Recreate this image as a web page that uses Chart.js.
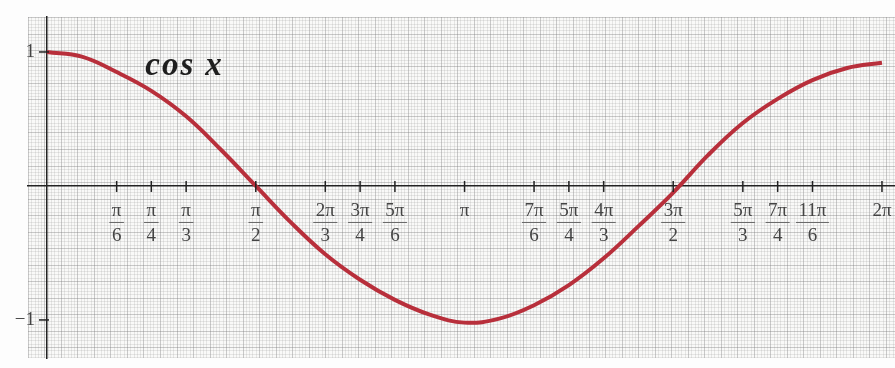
<!DOCTYPE html>
<html>
<head>
<meta charset="utf-8">
<script src="https://cdn.jsdelivr.net/npm/chart.js@4.4.1/dist/chart.umd.min.js"></script>
<style>
  html, body { margin: 0; padding: 0; background: #fdfdfd; }
  #wrap { width: 895px; height: 368px; }
</style>
</head>
<body>
<div id="wrap"><canvas id="myChart" width="895" height="368"></canvas></div>
<script>
// curve (x in radians)
const curveX = [0, 0.262, 0.524, 0.785, 1.047, 1.309, 1.571, 1.833, 2.094, 2.356, 2.618, 2.880, 3.142,
    3.403, 3.665, 3.927, 4.189, 4.451, 4.712, 4.974, 5.236, 5.498, 5.760, 6.021, 6.283]
const curveY = [1.0, 0.965, 0.85, 0.71, 0.52, 0.27, 0.0, -0.27, -0.51, -0.70, -0.85, -0.96, -1.02,
    -0.99, -0.89, -0.74, -0.54, -0.30, -0.05, 0.23, 0.47, 0.65, 0.79, 0.88, 0.92]

// x axis ticks
const tickValues = [0.524, 0.785, 1.047, 1.571, 2.094, 2.356, 2.618, 3.142,
    3.665, 3.927, 4.189, 4.712, 5.236, 5.498, 5.760, 6.283]
const tickTop = ['π', 'π', 'π', 'π', '2π', '3π', '5π', 'π', '7π', '5π', '4π', '3π', '5π', '7π', '11π', '2π']
const tickBottom = ['6', '4', '3', '2', '3', '4', '6', '', '6', '4', '3', '2', '3', '4', '6', '']

// y axis ticks
const yTickValues = [-1, 1]
const yTickLabels = ['−1', '1']

const ctx = document.getElementById('myChart').getContext('2d')
const serif = "'Liberation Serif', 'DejaVu Serif', serif"
const labelFont = { family: serif, size: 19, lineHeight: 1.3 }

// keep the plot area fixed to the layout padding
const noPad = scale => {
    scale.paddingLeft = 0
    scale.paddingRight = 0
    scale.paddingTop = 0
    scale.paddingBottom = 0
}

const paper = {
    id: 'paper',
    beforeDraw(chart) {
        const c = chart.ctx
        const a = chart.chartArea
        c.save()
        c.fillStyle = '#f9f9f8'
        c.fillRect(a.left, a.top, a.right - a.left, a.bottom - a.top)
        const step = 3.3
        let i = 0
        for (let x = a.left; x <= a.right; x += step, i++) {
            c.strokeStyle = i % 5 === 0 ? 'rgba(120,120,120,0.38)' : 'rgba(150,150,150,0.2)'
            c.lineWidth = 1
            c.beginPath()
            c.moveTo(Math.round(x) + 0.5, a.top)
            c.lineTo(Math.round(x) + 0.5, a.bottom)
            c.stroke()
        }
        i = 0
        for (let y = a.top; y <= a.bottom; y += step, i++) {
            c.strokeStyle = i % 5 === 0 ? 'rgba(120,120,120,0.38)' : 'rgba(150,150,150,0.2)'
            c.beginPath()
            c.moveTo(a.left, Math.round(y) + 0.5)
            c.lineTo(a.right, Math.round(y) + 0.5)
            c.stroke()
        }
        c.restore()
    },
    afterDraw(chart) {
        const c = chart.ctx
        const xs = chart.scales.x
        const ys = chart.scales.y
        const y0 = ys.getPixelForValue(0)
        const x0 = xs.getPixelForValue(0)
        c.save()
        c.strokeStyle = '#222'
        c.lineWidth = 1.5
        // tick marks crossing the axes
        tickValues.forEach(v => {
            const px = xs.getPixelForValue(v)
            c.beginPath()
            c.moveTo(px, y0 - 5)
            c.lineTo(px, y0 + 6)
            c.stroke()
        })
        yTickValues.forEach(v => {
            const py = ys.getPixelForValue(v)
            c.beginPath()
            c.moveTo(x0 - 8, py)
            c.lineTo(x0 + 2, py)
            c.stroke()
        })
        // y labels, left of the tick marks
        c.font = labelFont.size + 'px ' + serif
        c.fillStyle = '#444'
        c.textAlign = 'right'
        c.textBaseline = 'middle'
        yTickValues.forEach((v, i) => {
            c.fillText(yTickLabels[i], x0 - 12, ys.getPixelForValue(v))
        })
        // fraction bars
        c.strokeStyle = '#666'
        c.lineWidth = 1
        tickValues.forEach((v, i) => {
            if (!tickBottom[i]) return
            const px = xs.getPixelForValue(v)
            const w = Math.max(c.measureText(tickTop[i]).width, c.measureText(tickBottom[i]).width) + 5
            c.beginPath()
            c.moveTo(px - w / 2, y0 + 36.5)
            c.lineTo(px + w / 2, y0 + 36.5)
            c.stroke()
        })
        // curve name
        c.fillStyle = '#1e1e1e'
        c.font = 'italic bold 33px ' + serif
        c.textAlign = 'left'
        c.textBaseline = 'alphabetic'
        c.letterSpacing = '2px'
        const ny = ys.getPixelForValue(0.83)
        c.fillText('cos', xs.getPixelForValue(0.74), ny)
        c.fillText('x', xs.getPixelForValue(1.19), ny)
        c.restore()
    }
}

new Chart(ctx, {
    type: 'scatter',
    data: {
        datasets: [{
            label: 'cos x',
            data: curveX.map((x, i) => ({ x: x, y: curveY[i] })),
            showLine: true,
            borderColor: '#b82f3b',
            borderWidth: 4,
            pointRadius: 0,
            tension: 0.4
        }]
    },
    options: {
        responsive: false,
        animation: false,
        layout: { padding: { left: 28, right: 0, top: 17, bottom: 10 } },
        plugins: { legend: { display: false }, tooltip: { enabled: false } },
        scales: {
            x: {
                type: 'linear',
                position: { y: 0 },
                min: -0.143,
                max: 6.381,
                afterBuildTicks: axis => { axis.ticks = tickValues.map(v => ({ value: v })) },
                afterFit: noPad,
                grid: { display: false, drawTicks: false },
                border: { display: true, color: '#222', width: 1.5 },
                ticks: {
                    autoSkip: false,
                    maxRotation: 0,
                    padding: 13,
                    color: '#444',
                    font: labelFont,
                    callback: (v, i) => tickBottom[i] ? [tickTop[i], tickBottom[i]] : tickTop[i]
                }
            },
            y: {
                type: 'linear',
                position: { x: 0 },
                min: -1.284,
                max: 1.261,
                afterBuildTicks: axis => { axis.ticks = yTickValues.map(v => ({ value: v })) },
                afterFit: noPad,
                grid: { display: false, drawTicks: false },
                border: { display: true, color: '#222', width: 1.5 },
                ticks: { display: false }
            }
        }
    },
    plugins: [paper]
})
</script>
</body>
</html>
